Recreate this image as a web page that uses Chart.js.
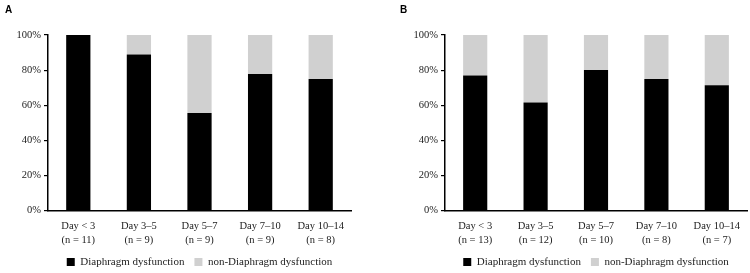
<!DOCTYPE html>
<html>
<head>
<meta charset="utf-8">
<script src="https://cdn.jsdelivr.net/npm/chart.js@4"></script>
<style>
  html, body { margin: 0; padding: 0; background: #fff; }
  .wrap { display: flex; width: 750px; height: 273px; }
  .panel { position: relative; width: 375px; height: 273px; }
</style>
</head>
<body>
<div class="wrap">
  <div class="panel"><canvas id="chrA"></canvas></div>
  <div class="panel"><canvas id="chrB"></canvas></div>
</div>
<script>
// categories and values (percent of patients)
var days = ["Day < 3", "Day 3\u20135", "Day 5\u20137", "Day 7\u201310", "Day 10\u201314"];
var nA = [11, 9, 9, 9, 8];
var nB = [13, 12, 10, 8, 7];
var dysA = [100, 88.9, 55.6, 77.8, 75.0];
var dysB = [76.9, 61.5, 80.0, 75.0, 71.4];
var yTicks = [0, 20, 40, 60, 80, 100];

var serif = "'Liberation Serif', 'DejaVu Serif', serif";

// panel letter plugin
var panelLetter = {
  id: 'panelLetter',
  afterDraw: (chart, args, opts) => {
    var ctx = chart.ctx;
    ctx.save();
    ctx.font = "bold 10px 'Liberation Sans', Arial, sans-serif";
    ctx.fillStyle = '#000';
    ctx.textBaseline = 'top';
    ctx.fillText(opts.text, opts.x, opts.y);
    ctx.restore();
  }
};

makeChart = (id, letter, n, dys, padL, padR, letterX) => {
  var labels = days.map((d, i) => [d, "(n = " + n[i] + ")"]);
  var rest = dys.map(v => +(100 - v).toFixed(1));
  return new Chart(document.getElementById(id).getContext('2d'), {
    type: 'bar',
    data: {
      labels: labels,
      datasets: [{
        label: 'Diaphragm dysfunction',
        data: dys,
        backgroundColor: '#000000',
        borderWidth: 0
      }, {
        label: 'non-Diaphragm dysfunction',
        data: rest,
        backgroundColor: '#d0d0d0',
        borderWidth: 0
      }]
    },
    plugins: [panelLetter],
    options: {
      responsive: false,
      animation: false,
      categoryPercentage: 1.0,
      barPercentage: 0.4,
      layout: { padding: { top: 35, left: padL, right: padR, bottom: -4.5 } },
      plugins: {
        panelLetter: { text: letter, x: letterX, y: 5 },
        tooltip: { enabled: false },
        legend: {
          position: 'bottom',
          fullSize: false,
          labels: {
            boxWidth: 8,
            boxHeight: 8,
            padding: 10,
            color: '#222',
            font: { family: serif, size: 11 }
          }
        }
      },
      scales: {
        x: {
          stacked: true,
          afterFit: s => { s.height = 36; },
          grid: { display: false, drawTicks: false },
          border: { display: true, color: '#000', width: 1.5 },
          ticks: {
            color: '#222',
            padding: 8.5,
            maxRotation: 0,
            font: { family: serif, size: 10.5, lineHeight: 1.35 }
          }
        },
        y: {
          stacked: true,
          min: 0,
          max: 100,
          afterFit: s => { s.width = 48; },
          afterBuildTicks: s => { s.ticks = yTicks.map(v => ({ value: v })); },
          grid: { drawOnChartArea: false, drawTicks: true, tickLength: 4, color: '#000', lineWidth: 1.2 },
          border: { display: true, color: '#000', width: 1.5 },
          ticks: {
            color: '#222',
            padding: 3,
            font: { family: serif, size: 10.5 },
            callback: v => v + '%'
          }
        }
      }
    }
  });
};

var cA = document.getElementById('chrA');
var cB = document.getElementById('chrB');
[cA, cB].forEach(c => { c.width = 375; c.height = 273; });

makeChart('chrA', 'A', nA, dysA, 0, 24, 5);
makeChart('chrB', 'B', nB, dysB, 22, 3, 25);
</script>
</body>
</html>
